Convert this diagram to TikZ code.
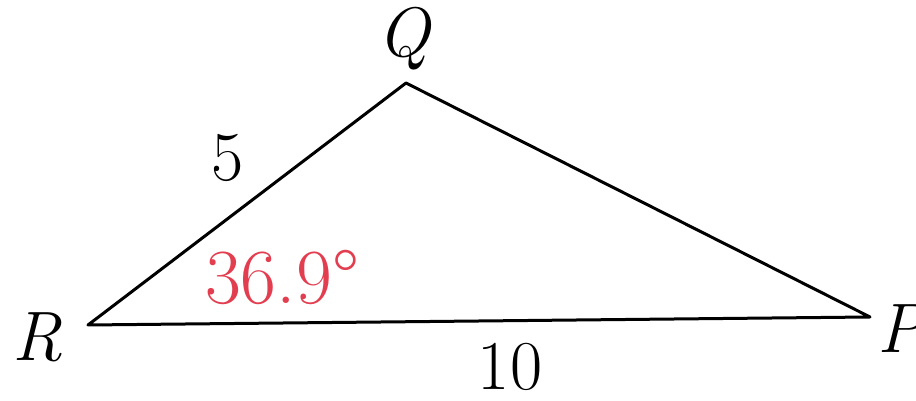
\documentclass[tikz,border=0pt]{standalone}
\usepackage{textcomp}
\definecolor{anglered}{RGB}{226,62,80}
\begin{document}
\begin{tikzpicture}[x=1pt,y=1pt,
  lbl/.style={font=\fontsize{70}{74}\selectfont, inner sep=0pt},
  side/.style={line width=3pt, line join=round}]
\useasboundingbox (0,0) rectangle (916,401);
\coordinate (R) at (88,76);
\coordinate (Q) at (406,318);
\coordinate (P) at (870,84);
\draw[side] (R) -- (Q) -- (P) -- cycle;
\node[lbl] (lQ) at (405,362) {\textit{Q}};
\node[lbl] (lR) at (37,64) {\textit{R}};
\node[lbl] (lP) at (903,72) {\textit{P}};
\node[lbl] (l5) at (228,243) {5};
\node[lbl, text=anglered, font=\fontsize{78}{82}\selectfont] (lang) at (282,124) {36.9\textdegree};
\node[lbl] (l10) at (510,34) {10};
\end{tikzpicture}
\end{document}
